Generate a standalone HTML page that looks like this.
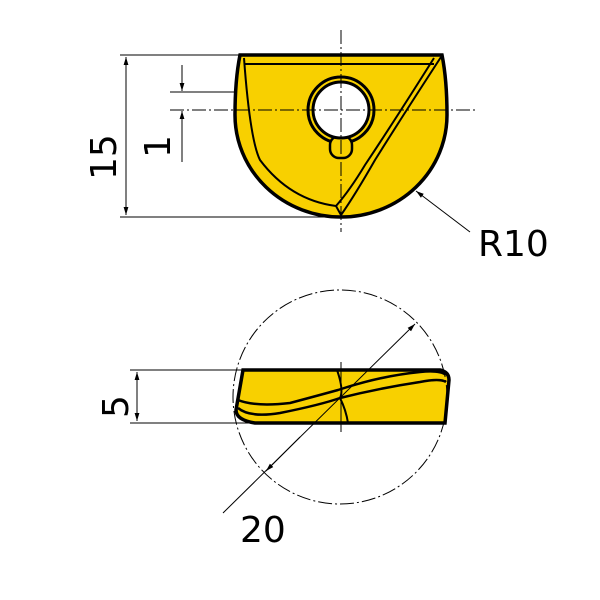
<!DOCTYPE html>
<html><head><style>body{margin:0;background:#fff}svg{display:block}</style></head><body>
<svg width="600" height="600" viewBox="0 0 600 600" xmlns="http://www.w3.org/2000/svg" font-family="'DejaVu Sans','Liberation Sans',sans-serif">
<defs>
<marker id="a" viewBox="0 0 10 10" refX="10" refY="5" markerWidth="8" markerHeight="8" orient="auto-start-reverse"><path d="M0,2 L10,5 L0,8 Z" fill="#000"/></marker>
</defs>
<g stroke="#000" stroke-width="1" fill="none">
<!-- top view dims -->
<line x1="120" y1="55" x2="240" y2="55"/>
<line x1="120" y1="217" x2="335" y2="217"/>
<line x1="126" y1="57" x2="126" y2="215" marker-start="url(#a)" marker-end="url(#a)"/>
<line x1="170" y1="92" x2="236" y2="92"/>
<line x1="182" y1="65" x2="182" y2="91" marker-end="url(#a)"/>
<line x1="182" y1="162" x2="182" y2="111" marker-end="url(#a)"/>
</g>
<!-- top insert -->
<path d="M240,55 L442,55 Q447,80 447,115 A106,102 0 0 1 235,115 Q235,80 240,55 Z" fill="#f8d000" stroke="#000" stroke-width="3.5"/>
<path d="M244,64 L434,64" stroke="#000" stroke-width="2" fill="none"/>
<path d="M244,58 Q250,140 260,160 Q290,200 336,206 L341,215" stroke="#000" stroke-width="2" fill="none"/>
<path d="M441,57 Q400,120 375,160 Q355,195 341,215 M434,58 Q395,120 365,165 Q350,190 336,206" stroke="#000" stroke-width="2" fill="none"/>
<circle cx="341" cy="110" r="33" fill="#f8d000" stroke="#000" stroke-width="3"/>
<rect x="330" y="136" width="22" height="22" rx="9" fill="#f8d000" stroke="#000" stroke-width="2.5"/>
<circle cx="341" cy="110" r="28" fill="#fff" stroke="#000" stroke-width="3"/>
<g stroke="#000" stroke-width="1" fill="none" stroke-dasharray="14,3,2,3">
<line x1="170" y1="110" x2="478" y2="110"/>
<line x1="341" y1="30" x2="341" y2="232"/>
</g>
<line x1="470" y1="232" x2="416" y2="191" stroke="#000" stroke-width="1" marker-end="url(#a)"/>
<text x="478" y="256" font-size="36">R10</text>
<text transform="translate(116,180) rotate(-90)" font-size="36">15</text>
<text transform="translate(170,158) rotate(-90)" font-size="36">1</text>
<!-- bottom view -->
<g stroke="#000" stroke-width="1" fill="none">
<line x1="130" y1="370" x2="245" y2="370"/>
<line x1="130" y1="423" x2="250" y2="423"/>
<line x1="137" y1="372" x2="137" y2="421" marker-start="url(#a)" marker-end="url(#a)"/>
</g>
<path d="M243,370 L440,370 Q449,372 449,380 L445,423 L255,423 Q236,420 236,410 Z" fill="#f8d000" stroke="#000" stroke-width="3.5"/>
<path d="M238,408 Q250,418 280,413 Q320,405 340,398 Q380,388 420,382 Q440,378 446,382 M238,400 Q255,407 290,403 Q320,395 338,390 Q380,376 420,372 Q440,370 446,375" stroke="#000" stroke-width="2.5" fill="none"/>
<path d="M337,370 Q344,390 340,398 Q346,410 348,423" stroke="#000" stroke-width="2" fill="none"/>
<circle cx="340" cy="397" r="107" fill="none" stroke="#000" stroke-width="1" stroke-dasharray="14,3,2,3"/>
<line x1="341" y1="362" x2="341" y2="432" stroke="#000" stroke-width="1"/>
<line x1="223" y1="513" x2="415" y2="324" stroke="#000" stroke-width="1" marker-end="url(#a)"/>
<line x1="300" y1="437" x2="266" y2="471" stroke="#000" stroke-width="1" marker-end="url(#a)"/>
<text x="240" y="542" font-size="36">20</text>
<text transform="translate(128,418) rotate(-90)" font-size="36">5</text>
</svg>
</body></html>
